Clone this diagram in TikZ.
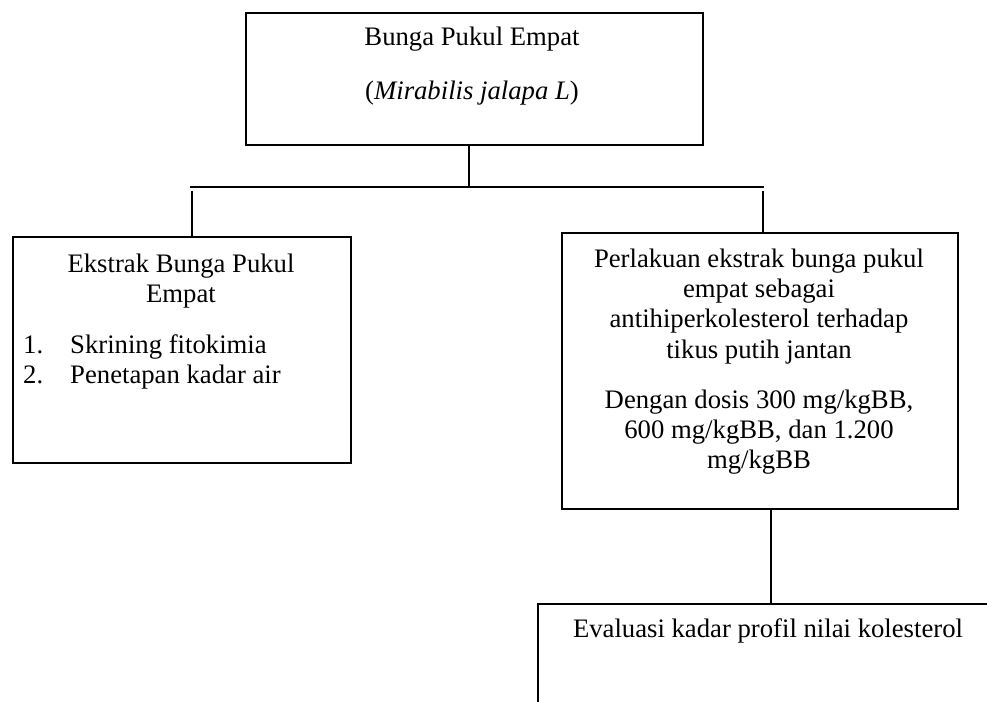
\documentclass[tikz,border=0pt]{standalone}
\usepackage{fontspec}
\setmainfont{Liberation Serif}
\begin{document}
\begin{tikzpicture}[x=1pt,y=-1pt,
  boxnode/.style={draw=black,line width=1.8pt,inner sep=0pt,anchor=north west},
  txt/.style={anchor=base,inner sep=0pt,font=\fontsize{26.7}{30.5}\selectfont},
  txtl/.style={txt,anchor=base west},
  conn/.style={draw=black,line width=2pt}]
\useasboundingbox (0,0) rectangle (987,701);
\clip (0,0) rectangle (987,701);
% boxes
\node[boxnode,minimum width=457pt,minimum height=132pt] (top) at (245,12) {};
\node[boxnode,minimum width=338pt,minimum height=226pt] (ekstrak) at (12,236) {};
\node[boxnode,minimum width=396pt,minimum height=276pt] (perlakuan) at (561,232) {};
\node[boxnode,minimum width=462pt,minimum height=150pt] (eval) at (537,603) {};
% texts
\node[txt] (t1) at (472,46) {Bunga Pukul Empat};
\node[txt] (t2) at (472,99) {(\textit{Mirabilis jalapa L})};
\node[txt] (l1) at (181,272) {Ekstrak Bunga Pukul};
\node[txt] (l2) at (181,302) {Empat};
\node[txtl] (l3n) at (23,353) {1.};
\node[txtl] (l3) at (70,353) {Skrining fitokimia};
\node[txtl] (l4n) at (23,383) {2.};
\node[txtl] (l4) at (70,383) {Penetapan kadar air};
\node[txt] (r1) at (759,267) {Perlakuan ekstrak bunga pukul};
\node[txt] (r2) at (759,297) {empat sebagai};
\node[txt] (r3) at (759,327) {antihiperkolesterol terhadap};
\node[txt] (r4) at (759,358) {tikus putih jantan};
\node[txt] (r5) at (759,408) {Dengan dosis 300 mg/kgBB,};
\node[txt] (r6) at (759,438) {600 mg/kgBB, dan 1.200};
\node[txt] (r7) at (759,468) {mg/kgBB};
\node[txt] (b1) at (768,637) {Evaluasi kadar profil nilai kolesterol};
% connectors
\coordinate (jt) at (469,187);
\coordinate (hl) at (190,187);
\coordinate (hr) at (764,187);
\draw[conn] (jt |- top.south) -- (jt);
\draw[conn] (hl) -- (hr);
\coordinate (lv) at (192,191);
\draw[conn] (lv) -- (lv |- ekstrak.north);
\coordinate (rv) at (763,191);
\draw[conn] (rv) -- (rv |- perlakuan.north);
\coordinate (bv) at (771,0);
\draw[conn] (bv |- perlakuan.south) -- (bv |- eval.north);
\end{tikzpicture}
\end{document}
